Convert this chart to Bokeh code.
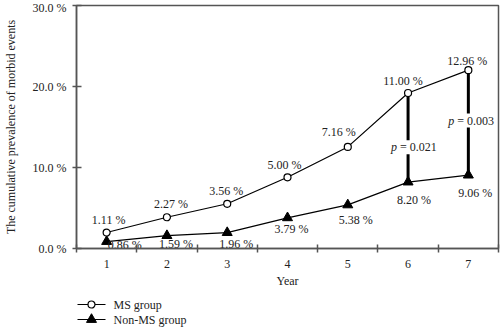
from bokeh.plotting import figure
from bokeh.layouts import column
from bokeh.models import (FixedTicker, ColumnDataSource, Label, Range1d)
from bokeh.embed import file_html
from bokeh.resources import INLINE
from bokeh.core.properties import value

years = [1, 2, 3, 4, 5, 6, 7]
year_labels = ["1", "2", "3", "4", "5", "6", "7"]
ms_group = [1.11, 2.27, 3.56, 5.00, 7.16, 11.00, 12.96]
non_ms_group = [0.86, 1.59, 1.96, 3.79, 5.38, 8.20, 9.06]
y_ticks = [0, 10, 20, 30]
y_tick_labels = ["0.0 %", "10.0 %", "20.0 %", "30.0 %"]
p_years = [6, 7]
p_values = ["0.021", "0.003"]
series_names = ["MS group", "Non-MS group"]

# MS series is drawn stacked on top of the non-MS series
ms_top = [a + b for a, b in zip(ms_group, non_ms_group)]

# label offsets (screen px)
ms_dx = [2, 4, -1, -3, -9, -5, -1]
ms_dy = [-13, -13, -13, -12, -15, -12, -9]
non_dx = [18, 9, 9, 4, 8, 6, 7]
non_dy = [3, 8, 11, 11, 15, 18, 18]

FONT = "Liberation Serif"
TXT = "#222222"
AX = "#555555"
LEFT, RIGHT = 76, 2

src = ColumnDataSource(dict(
    x=years, top=ms_top, non=non_ms_group,
    ms_lab=["%.2f %%" % v for v in ms_group],
    non_lab=["%.2f %%" % v for v in non_ms_group],
    ms_dx=ms_dx, ms_dy=ms_dy, non_dx=non_dx, non_dy=non_dy,
))

p = figure(width=500, height=290, output_backend="svg", toolbar_location=None,
           x_range=Range1d(0.5, 7.5), y_range=Range1d(0, 30),
           min_border_left=LEFT, min_border_right=RIGHT, min_border_top=5, min_border_bottom=36)
p.grid.visible = False
p.outline_line_color = AX
p.outline_line_width = 1.5
p.background_fill_color = "white"
p.border_fill_color = "white"

# x axis
p.xaxis.ticker = FixedTicker(ticks=years, minor_ticks=[0.5 + i for i in range(8)])
p.xaxis.major_label_overrides = {y: l for y, l in zip(years, year_labels)}
p.xaxis.major_tick_in = 0
p.xaxis.major_tick_out = 0
p.xaxis.minor_tick_in = 4
p.xaxis.minor_tick_out = 4
p.xaxis.major_label_standoff = 7
p.xaxis.axis_label = "Year"
p.xaxis.axis_label_standoff = 3

# y axis
p.yaxis.ticker = FixedTicker(ticks=y_ticks, minor_ticks=[])
p.yaxis.major_label_overrides = {t: l for t, l in zip(y_ticks, y_tick_labels)}
p.yaxis.major_tick_in = 5
p.yaxis.major_tick_out = 4
p.yaxis.major_label_standoff = 6
p.yaxis.axis_label = "The cumulative prevalence of morbid events"
p.yaxis.axis_label_standoff = 12

for ax in (p.xaxis, p.yaxis):
    ax.axis_line_color = AX
    ax.axis_line_width = 1.5
    ax.major_tick_line_color = AX
    ax.major_tick_line_width = 1.5
    ax.minor_tick_line_color = AX
    ax.minor_tick_line_width = 1.5
    ax.major_label_text_font = FONT
    ax.major_label_text_font_size = "12px"
    ax.major_label_text_color = TXT
    ax.axis_label_text_font = FONT
    ax.axis_label_text_font_size = "12px"
    ax.axis_label_text_font_style = "normal"
    ax.axis_label_text_color = TXT

# significance bars
p.segment(x0=p_years, x1=p_years,
          y0=[non_ms_group[years.index(y)] for y in p_years],
          y1=[ms_top[years.index(y)] for y in p_years],
          line_color="black", line_width=3)

p.line("x", "top", source=src, line_color="black", line_width=1.2)
p.line("x", "non", source=src, line_color="black", line_width=1.2)
p.scatter("x", "non", source=src, marker="triangle", size=10,
          fill_color="black", line_color="black")
p.scatter("x", "top", source=src, marker="circle", size=7,
          fill_color="white", line_color="black", line_width=1.2)

p.text("x", "top", text="ms_lab", source=src, x_offset="ms_dx", y_offset="ms_dy",
       text_align="center", text_baseline="middle", text_font=value(FONT),
       text_font_size="12px", text_color=TXT)
p.text("x", "non", text="non_lab", source=src, x_offset="non_dx", y_offset="non_dy",
       text_align="center", text_baseline="middle", text_font=value(FONT),
       text_font_size="12px", text_color=TXT)

# p-value annotations
p_pos = {6: (12.5, -17), 7: (15.8, -20)}
for yr, pv in zip(p_years, p_values):
    yy, dx = p_pos[yr]
    p.add_layout(Label(x=yr, y=yy, x_offset=dx + 9, text="= " + pv, text_font=FONT,
                       text_font_size="12px", text_color=TXT,
                       text_baseline="middle", text_align="left",
                       background_fill_color="white", background_fill_alpha=1.0))
    p.add_layout(Label(x=yr, y=yy, x_offset=dx, text="p", text_font=FONT,
                       text_font_style="italic", text_font_size="12px",
                       text_color=TXT, text_baseline="middle", text_align="left",
                       background_fill_color="white", background_fill_alpha=1.0))

# legend strip; its frame is aligned with the main frame, so use pixel x range
leg = figure(width=500, height=38, output_backend="svg", toolbar_location=None,
             x_range=Range1d(LEFT, 500 - RIGHT), y_range=Range1d(38, 0),
             min_border=0, min_border_left=LEFT, min_border_right=RIGHT,
             min_border_top=0, min_border_bottom=0)
leg.axis.visible = False
leg.grid.visible = False
leg.outline_line_color = None
leg.background_fill_color = "white"
leg.border_fill_color = "white"
rows = [14, 29]
leg.segment(x0=[77, 77], x1=[105, 105], y0=rows, y1=rows, line_color="black", line_width=1.2)
leg.scatter(x=[91], y=[rows[0]], marker="circle", size=7, fill_color="white",
            line_color="black", line_width=1.2)
leg.scatter(x=[91], y=[rows[1]], marker="triangle", size=10, fill_color="black",
            line_color="black")
leg.text(x=[113, 113], y=rows, text=series_names, text_align="left", text_baseline="middle",
         text_font=value(FONT), text_font_size="12px", text_color=TXT)

open("out.html", "w").write(file_html(column(p, leg, spacing=0), INLINE))
